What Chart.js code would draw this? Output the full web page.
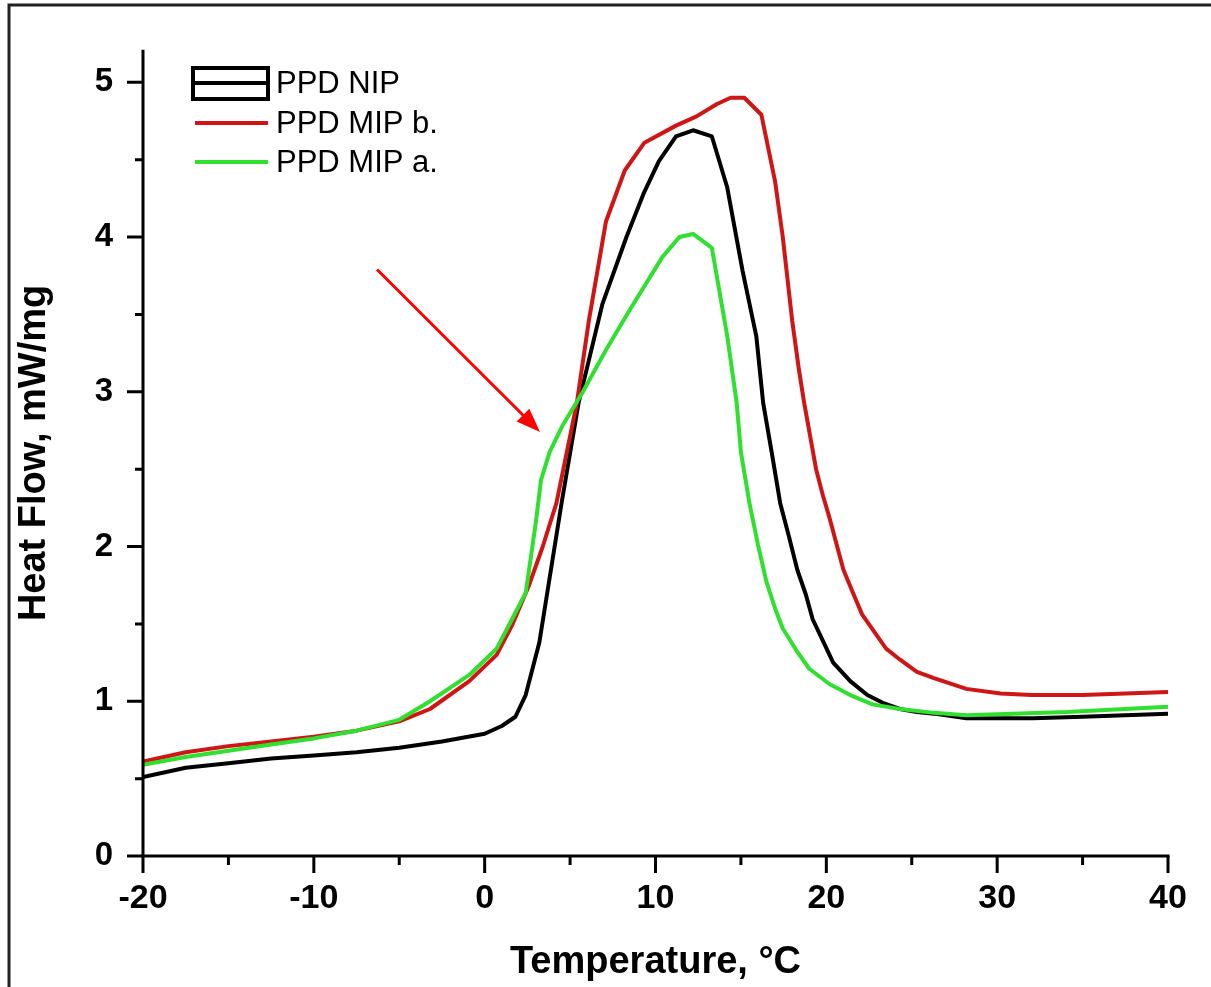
<!DOCTYPE html>
<html>
<head>
<meta charset="utf-8">
<script src="https://cdn.jsdelivr.net/npm/chart.js@4.4.0/dist/chart.umd.min.js"></script>
<style>
  html, body { margin: 0; padding: 0; background: #fff; }
  canvas { display: block; }
</style>
</head>
<body>
<canvas id="dsc" width="1211" height="987"></canvas>
<script>
// DSC curves (Temperature in °C, Heat Flow in mW/mg)
const nipT = [-20, -17.5, -15, -12.5, -10, -7.5, -5, -2.5, 0, 1, 1.8, 2.4, 3.2, 4.5, 5.5, 6.9, 8.3, 9.3, 10.2, 11.2, 12.2, 13.3, 14.2, 15.1, 15.9, 16.3, 16.8, 17.3, 17.8, 18.3, 18.8, 19.2, 19.8, 20.4, 21.4, 22.4, 23.3, 24.3, 25.3, 26.3, 28.2, 30, 32.1, 35, 37.5, 40];
const nipHF = [0.51, 0.57, 0.60, 0.63, 0.65, 0.67, 0.70, 0.74, 0.79, 0.84, 0.90, 1.04, 1.38, 2.28, 2.93, 3.57, 4.0, 4.28, 4.49, 4.65, 4.69, 4.65, 4.32, 3.78, 3.36, 2.93, 2.61, 2.28, 2.07, 1.85, 1.69, 1.53, 1.39, 1.25, 1.13, 1.04, 0.99, 0.95, 0.93, 0.92, 0.89, 0.89, 0.89, 0.90, 0.91, 0.92];

const mipbT = [-20, -17.5, -15, -12.5, -10, -7.5, -5, -3.2, -0.9, 0.7, 1.6, 2.6, 3.4, 4.2, 5.4, 6.1, 7.1, 8.2, 9.35, 11.2, 12.4, 13.6, 14.4, 15.2, 16.2, 17.0, 17.45, 18.0, 18.4, 18.7, 19.4, 19.8, 20.2, 21.0, 21.6, 22.1, 23.5, 24.3, 25.3, 26.3, 28.2, 30.2, 32, 35, 40];
const mipbHF = [0.61, 0.67, 0.71, 0.74, 0.77, 0.81, 0.87, 0.95, 1.13, 1.30, 1.49, 1.75, 2.0, 2.28, 2.93, 3.46, 4.1, 4.43, 4.61, 4.72, 4.78, 4.86, 4.90, 4.90, 4.79, 4.36, 4.0, 3.46, 3.14, 2.93, 2.50, 2.33, 2.18, 1.85, 1.69, 1.56, 1.34, 1.27, 1.19, 1.15, 1.08, 1.05, 1.04, 1.04, 1.06];

const mipaT = [-20, -17.5, -15, -12.5, -10, -7.5, -5, -3.2, -0.9, 0.7, 1.6, 2.4, 2.6, 3.0, 3.3, 3.8, 4.55, 5.7, 7.1, 8.5, 10.4, 11.4, 12.2, 13.3, 13.6, 14.2, 14.75, 15.0, 15.5, 16.0, 16.5, 17.0, 17.45, 18.3, 19.0, 20.2, 21.4, 22.7, 24.3, 26.3, 28.2, 34.1, 40];
const mipaHF = [0.59, 0.64, 0.68, 0.72, 0.76, 0.81, 0.88, 1.0, 1.17, 1.34, 1.53, 1.70, 1.85, 2.16, 2.43, 2.61, 2.78, 2.99, 3.27, 3.53, 3.87, 4.0, 4.02, 3.93, 3.74, 3.36, 2.93, 2.61, 2.28, 2.01, 1.77, 1.60, 1.47, 1.32, 1.21, 1.11, 1.04, 0.98, 0.95, 0.925, 0.91, 0.93, 0.965];

const seriesNames = ['PPD NIP', 'PPD MIP b.', 'PPD MIP a.'];
const xMajor = [-20, -10, 0, 10, 20, 30, 40];
const xMinor = [-15, -5, 5, 15, 25, 35];
const yMajor = [0, 1, 2, 3, 4, 5];
const yMinor = [0.5, 1.5, 2.5, 3.5, 4.5];
// arrow annotation, data coordinates [T, HF]
const arrowFrom = [-6.3, 3.79];
const arrowTo = [3.24, 2.74];

const FONT = "'Liberation Sans', Arial, sans-serif";
const pts = (xs, ys) => xs.map((x, i) => ({x: x, y: ys[i]}));

const axesPlugin = {
  id: 'axesPlugin',
  afterDraw(chart) {
    const ctx = chart.ctx;
    const xs = chart.scales.x, ys = chart.scales.y;
    const a = chart.chartArea;
    const x0 = xs.getPixelForValue(-20), x1 = xs.getPixelForValue(40);
    const y0 = ys.getPixelForValue(0);
    ctx.save();
    // figure frame (cropped, only top/left visible)
    ctx.strokeStyle = '#222';
    ctx.lineWidth = 3;
    ctx.beginPath();
    ctx.moveTo(9, 987); ctx.lineTo(9, 5); ctx.lineTo(1211, 5);
    ctx.stroke();
    // axis lines
    ctx.strokeStyle = '#000';
    ctx.lineWidth = 3;
    ctx.lineCap = 'butt';
    ctx.beginPath();
    ctx.moveTo(x0, a.top); ctx.lineTo(x0, y0 + 1.5);
    ctx.moveTo(x0 - 1.5, y0); ctx.lineTo(x1 + 1.5, y0);
    ctx.stroke();
    // ticks
    ctx.beginPath();
    xMajor.forEach(v => { const p = xs.getPixelForValue(v); ctx.moveTo(p, y0); ctx.lineTo(p, y0 + 17); });
    xMinor.forEach(v => { const p = xs.getPixelForValue(v); ctx.moveTo(p, y0); ctx.lineTo(p, y0 + 9); });
    yMajor.forEach(v => { const p = ys.getPixelForValue(v); ctx.moveTo(x0, p); ctx.lineTo(x0 - 16, p); });
    yMinor.forEach(v => { const p = ys.getPixelForValue(v); ctx.moveTo(x0, p); ctx.lineTo(x0 - 8, p); });
    ctx.stroke();
    // arrow
    const ax = xs.getPixelForValue(arrowFrom[0]), ay = ys.getPixelForValue(arrowFrom[1]);
    const bx = xs.getPixelForValue(arrowTo[0]), by = ys.getPixelForValue(arrowTo[1]);
    const ang = Math.atan2(by - ay, bx - ax);
    const hl = 24, hw = 9;
    ctx.strokeStyle = '#ff0000';
    ctx.fillStyle = '#ff0000';
    ctx.lineWidth = 3;
    ctx.beginPath();
    ctx.moveTo(ax, ay);
    ctx.lineTo(bx - Math.cos(ang) * hl * 0.8, by - Math.sin(ang) * hl * 0.8);
    ctx.stroke();
    ctx.beginPath();
    ctx.moveTo(bx, by);
    ctx.lineTo(bx - Math.cos(ang) * hl - Math.sin(ang) * hw, by - Math.sin(ang) * hl + Math.cos(ang) * hw);
    ctx.lineTo(bx - Math.cos(ang) * hl + Math.sin(ang) * hw, by - Math.sin(ang) * hl - Math.cos(ang) * hw);
    ctx.closePath();
    ctx.fill();
    // legend
    const rows = [83, 123, 162];
    ctx.font = '31px ' + FONT;
    ctx.textBaseline = 'middle';
    ctx.textAlign = 'left';
    chart.data.datasets.forEach((ds, i) => {
      const y = rows[i];
      if (i === 0) {
        ctx.strokeStyle = '#000';
        ctx.lineWidth = 4;
        ctx.strokeRect(193, 68, 75, 31);
      }
      ctx.strokeStyle = ds.borderColor;
      ctx.lineWidth = 4;
      ctx.beginPath();
      ctx.moveTo(195, y); ctx.lineTo(268, y);
      ctx.stroke();
      ctx.fillStyle = '#000';
      ctx.fillText(ds.label, 276, y + 1);
    });
    ctx.restore();
  }
};

new Chart(document.getElementById('dsc').getContext('2d'), {
  type: 'line',
  data: {
    datasets: [
      { label: seriesNames[0], data: pts(nipT, nipHF), borderColor: '#000000', borderWidth: 4, order: 2 },
      { label: seriesNames[1], data: pts(mipbT, mipbHF), borderColor: '#d01515', borderWidth: 4, order: 1 },
      { label: seriesNames[2], data: pts(mipaT, mipaHF), borderColor: '#2fe02f', borderWidth: 4, order: 0 }
    ]
  },
  options: {
    responsive: false,
    animation: false,
    devicePixelRatio: 1,
    layout: { padding: { left: 0, top: 45, right: 43, bottom: 0 } },
    elements: { point: { radius: 0 }, line: { tension: 0, fill: false, borderJoinStyle: 'round' } },
    plugins: { legend: { display: false }, tooltip: { enabled: false } },
    scales: {
      x: {
        type: 'linear', min: -20, max: 40,
        afterBuildTicks(s) { s.ticks = xMajor.map(v => ({value: v})); },
        afterFit(s) { s.height = 131; },
        grid: { display: false, drawTicks: false },
        border: { display: false },
        ticks: { padding: 22, color: '#000', font: { family: FONT, size: 34, weight: 'bold' }, maxRotation: 0 },
        title: { display: true, text: 'Temperature, °C', color: '#000', padding: { top: 0, bottom: 2 },
                 font: { family: FONT, size: 38, weight: 'bold' } }
      },
      y: {
        type: 'linear', min: 0, max: 5.21,
        afterBuildTicks(s) { s.ticks = yMajor.map(v => ({value: v})); },
        afterFit(s) { s.width = 143; },
        grid: { display: false, drawTicks: false },
        border: { display: false },
        ticks: { padding: 30, color: '#000', font: { family: FONT, size: 33, weight: 'bold' } },
        title: { display: true, text: 'Heat Flow, mW/mg', color: '#000', padding: { top: 12, bottom: 0 },
                 font: { family: FONT, size: 38, weight: 'bold' } }
      }
    }
  },
  plugins: [axesPlugin]
});
</script>
</body>
</html>
